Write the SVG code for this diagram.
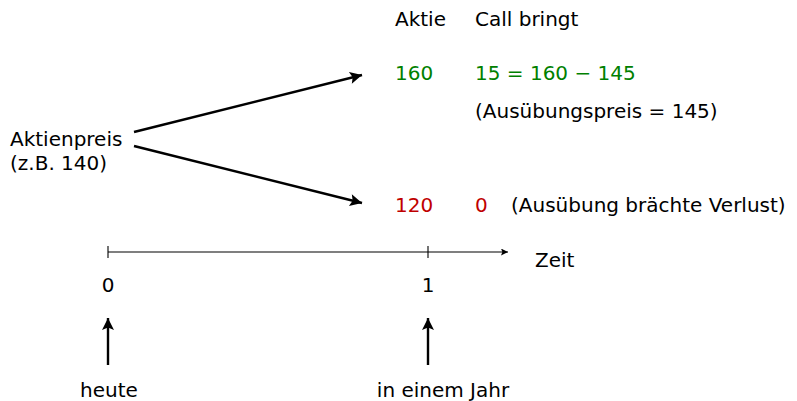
<svg xmlns="http://www.w3.org/2000/svg" width="797" height="401" viewBox="0 0 797 401">
  <style>
    text { font-family: "DejaVu Sans", "Liberation Sans", sans-serif; font-size: 20px; fill: #000; }
    .up { fill: #008000; }
    .down { fill: #bf0000; }
    .mid { text-anchor: middle; }
    .branch { stroke: #000; stroke-width: 2.4; fill: none; }
    .axis { stroke: #000; stroke-width: 1.1; fill: none; }
    .pointer { stroke: #000; stroke-width: 2.4; fill: none; }
  </style>
  <defs>
    <marker id="head" viewBox="0 0 10 10" refX="10" refY="5" markerWidth="11" markerHeight="7" markerUnits="userSpaceOnUse" orient="auto">
      <path d="M0,0 L10,5 L0,10 L2,5 Z" fill="#000"/>
    </marker>
    <marker id="headBig" viewBox="0 0 10 10" refX="10" refY="5" markerWidth="18" markerHeight="12" markerUnits="userSpaceOnUse" orient="auto">
      <path d="M0,0 L10,5 L0,10 L2,5 Z" fill="#000"/>
    </marker>
  </defs>

  <!-- starting price -->
  <g id="start">
    <text x="10" y="146">Aktienpreis</text>
    <text x="10" y="170">(z.B. 140)</text>
  </g>

  <!-- column headers -->
  <g id="header">
    <text x="395" y="26">Aktie</text>
    <text x="475" y="26">Call bringt</text>
  </g>

  <!-- up state -->
  <g id="stateUp">
    <text class="up" x="395" y="80">160</text>
    <text class="up" x="475" y="80">15 = 160 − 145</text>
    <text x="475" y="118">(Ausübungspreis = 145)</text>
  </g>

  <!-- down state -->
  <g id="stateDown">
    <text class="down" x="395" y="212">120</text>
    <text class="down" x="475" y="212">0</text>
    <text x="511" y="212">(Ausübung brächte Verlust)</text>
  </g>

  <!-- time axis -->
  <g id="timeline">
    <text x="535" y="267">Zeit</text>
    <text class="mid" x="108" y="292">0</text>
    <text class="mid" x="428" y="292">1</text>
  </g>

  <!-- time labels -->
  <g id="today">
    <text class="mid" x="109" y="397">heute</text>
  </g>
  <g id="nextYear">
    <text class="mid" x="443" y="397">in einem Jahr</text>
  </g>

  <!-- connectors -->
  <g id="connectors">
    <line class="branch" x1="134" y1="132" x2="362" y2="75" marker-end="url(#headBig)"/>
    <line class="branch" x1="134" y1="146" x2="362" y2="203" marker-end="url(#headBig)"/>
    <line class="axis" x1="108" y1="252" x2="508" y2="252" marker-end="url(#head)"/>
    <line class="axis" x1="108" y1="246" x2="108" y2="258"/>
    <line class="axis" x1="428" y1="246" x2="428" y2="258"/>
    <line class="pointer" x1="108" y1="365" x2="108" y2="318" marker-end="url(#headBig)"/>
    <line class="pointer" x1="428" y1="365" x2="428" y2="318" marker-end="url(#headBig)"/>
  </g>
</svg>
